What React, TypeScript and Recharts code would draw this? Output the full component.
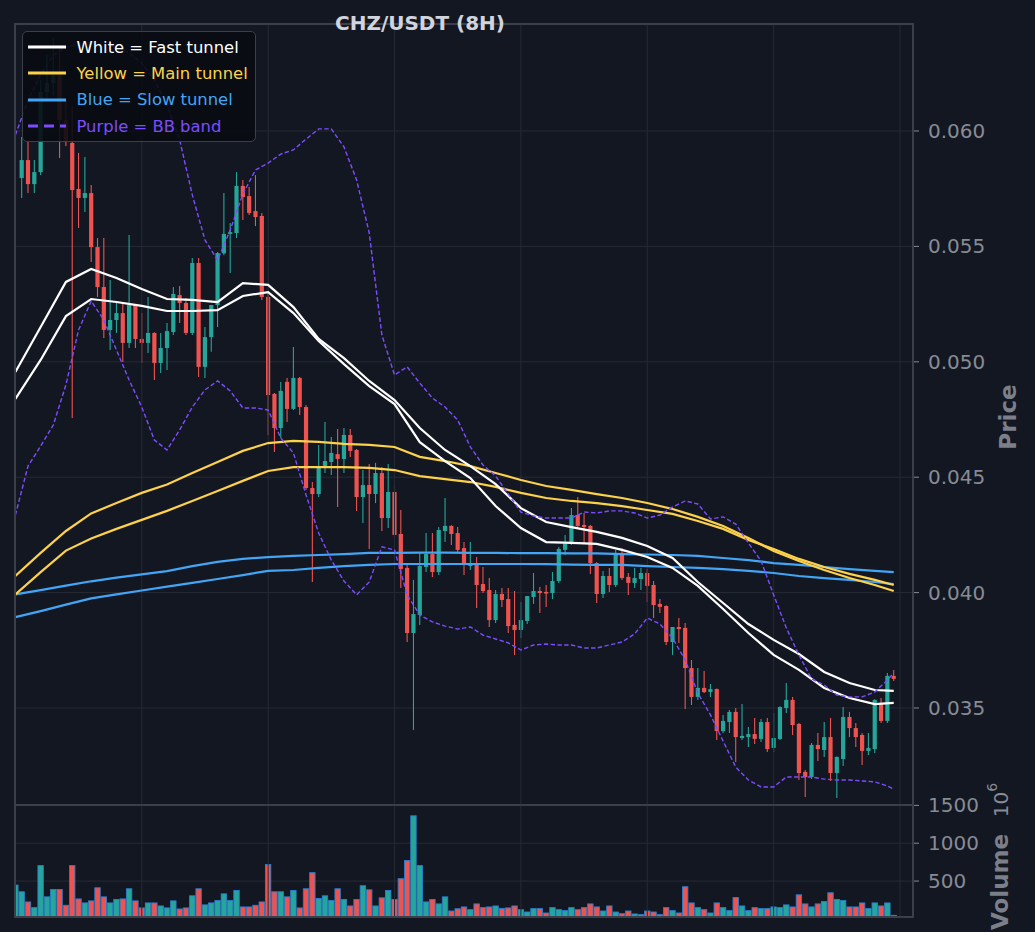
import React from "react";
import {
  ComposedChart,
  Bar,
  Line,
  XAxis,
  YAxis,
  CartesianGrid,
  ReferenceLine,
  Legend,
} from "recharts";

const FONT = "DejaVu Sans";
const BG = "#131722";
const GRID = "#262a35";
const SPINE = "#3b3f4a";
const TICK = "#878b95";
const LABEL = "#7b7f89";
const UP = "#26a69a";
const DOWN = "#ef5350";
const EDGE = "#2a7fd0";
const WHITE = "#ffffff";
const YELLOW = "#fdd14b";
const BLUE = "#42a5f5";
const PURPLE = "#7c4dff";

// candles, one per 8h bar (index 0..138)
const opens = [
  0.05796, 0.05874, 0.0577, 0.05822, 0.06169, 0.06208, 0.06243, 0.06048, 0.05948, 0.05749,
  0.0571, 0.05731, 0.05497, 0.05324, 0.05138, 0.05181, 0.05211, 0.05082, 0.05246, 0.05099,
  0.05082, 0.05125, 0.04995, 0.0506, 0.05129, 0.05289, 0.05255, 0.05125, 0.05428, 0.04978,
  0.05107, 0.05246, 0.0547, 0.05554, 0.05558, 0.05762, 0.05718, 0.05653, 0.05632, 0.05281,
  0.04861, 0.04713, 0.04913, 0.04796, 0.0493, 0.04804, 0.04453, 0.04427, 0.0454, 0.04566,
  0.046, 0.04579, 0.04683, 0.04618, 0.04414, 0.04466, 0.04427, 0.04518, 0.04323, 0.04436,
  0.04254, 0.04107, 0.03825, 0.03903, 0.04111, 0.04167, 0.04089, 0.04267, 0.04289, 0.04258,
  0.04193, 0.04115, 0.04128, 0.04037, 0.04011, 0.03881, 0.03994, 0.03972, 0.0386, 0.03838,
  0.03877, 0.03981, 0.04007, 0.04003, 0.03998, 0.0405, 0.04185, 0.04211, 0.04336, 0.04293,
  0.04289, 0.04128, 0.03994, 0.04072, 0.04033, 0.04172, 0.04068, 0.04042, 0.04059, 0.04085,
  0.04033, 0.03951, 0.03942, 0.03786, 0.03851, 0.03847, 0.03673, 0.03548, 0.03587, 0.03569,
  0.03582, 0.034, 0.03439, 0.03483, 0.0337, 0.03374, 0.03387, 0.03366, 0.03439, 0.03327,
  0.03366, 0.035, 0.03535, 0.03431, 0.03223, 0.03201, 0.0334, 0.03318, 0.03374, 0.03218,
  0.03279, 0.03461, 0.03413, 0.03383, 0.03314, 0.03322, 0.03517, 0.03444, 0.03639,
];
const highs = [
  0.05974, 0.05952, 0.05874, 0.06221, 0.06329, 0.06403, 0.0636, 0.06134, 0.06108, 0.05905,
  0.05887, 0.05766, 0.05536, 0.05536, 0.05354, 0.05255, 0.05255, 0.05549, 0.0525, 0.05211,
  0.05281, 0.05128, 0.05125, 0.05168, 0.05324, 0.05328, 0.05276, 0.0545, 0.0545, 0.05151,
  0.05246, 0.05476, 0.05731, 0.05601, 0.05822, 0.05788, 0.05757, 0.05809, 0.05645, 0.05298,
  0.04865, 0.04913, 0.0493, 0.05064, 0.04934, 0.04813, 0.04479, 0.0464, 0.04739, 0.04674,
  0.04709, 0.04713, 0.04709, 0.04622, 0.04531, 0.04557, 0.04562, 0.04544, 0.04557, 0.04462,
  0.04358, 0.04128, 0.04055, 0.04172, 0.04258, 0.04258, 0.04284, 0.0441, 0.04292, 0.04284,
  0.04219, 0.04219, 0.04154, 0.04111, 0.04063, 0.04011, 0.0402, 0.0402, 0.04007, 0.03959,
  0.03985, 0.04085, 0.04024, 0.04033, 0.04089, 0.04198, 0.0425, 0.04367, 0.04414, 0.04345,
  0.04293, 0.04131, 0.04094, 0.04107, 0.04185, 0.04193, 0.04085, 0.04107, 0.04107, 0.04102,
  0.0405, 0.03972, 0.03945, 0.03851, 0.0389, 0.03868, 0.03708, 0.03673, 0.0366, 0.03604,
  0.03585, 0.0347, 0.03491, 0.035, 0.03517, 0.03418, 0.03457, 0.03452, 0.03457, 0.03478,
  0.03508, 0.03608, 0.03548, 0.03435, 0.03231, 0.03348, 0.03392, 0.03439, 0.03457, 0.0329,
  0.03504, 0.03483, 0.03435, 0.03392, 0.03392, 0.03538, 0.03543, 0.03652, 0.03665,
];
const lows = [
  0.0571, 0.05731, 0.05731, 0.05809, 0.06134, 0.06156, 0.05883, 0.05935, 0.04757, 0.0558,
  0.05649, 0.05432, 0.05281, 0.05103, 0.05051, 0.05125, 0.04999, 0.0506, 0.0506, 0.04995,
  0.05038, 0.04921, 0.04952, 0.04965, 0.05116, 0.05168, 0.05116, 0.05116, 0.04934, 0.0493,
  0.05043, 0.05151, 0.05462, 0.05385, 0.05536, 0.05614, 0.05636, 0.05588, 0.05268, 0.04683,
  0.04609, 0.0467, 0.04739, 0.04791, 0.0477, 0.04445, 0.04046, 0.04414, 0.04518, 0.0451,
  0.04371, 0.04518, 0.04588, 0.04354, 0.04302, 0.04189, 0.04388, 0.04267, 0.0428, 0.04241,
  0.0402, 0.03786, 0.03405, 0.0386, 0.04089, 0.04068, 0.04076, 0.04219, 0.04206, 0.04172,
  0.04076, 0.04098, 0.03933, 0.03998, 0.03851, 0.03868, 0.03938, 0.03825, 0.0373, 0.03803,
  0.03864, 0.03951, 0.03912, 0.03938, 0.03972, 0.04042, 0.04163, 0.04206, 0.04284, 0.04215,
  0.04081, 0.03955, 0.03977, 0.04003, 0.04024, 0.04055, 0.0399, 0.0402, 0.04011, 0.03959,
  0.0389, 0.03912, 0.03773, 0.0373, 0.03782, 0.03496, 0.03513, 0.03535, 0.03565, 0.03548,
  0.03361, 0.03392, 0.03392, 0.03266, 0.03361, 0.03331, 0.03344, 0.03353, 0.03309, 0.03309,
  0.03361, 0.03478, 0.03383, 0.03188, 0.03114, 0.03192, 0.0327, 0.03288, 0.03184, 0.0311,
  0.03249, 0.03374, 0.03331, 0.03253, 0.03296, 0.03305, 0.03435, 0.03435, 0.03617,
];
const closes = [
  0.05874, 0.0577, 0.05822, 0.06169, 0.06208, 0.06243, 0.06048, 0.05952, 0.05744, 0.0571,
  0.05731, 0.05497, 0.05324, 0.05138, 0.05181, 0.05211, 0.05082, 0.05246, 0.05099, 0.05082,
  0.05125, 0.04995, 0.0506, 0.05133, 0.05294, 0.05255, 0.05125, 0.05428, 0.04978, 0.05107,
  0.05246, 0.05471, 0.05554, 0.05562, 0.05762, 0.05714, 0.05645, 0.05627, 0.05281, 0.04856,
  0.04713, 0.04874, 0.04796, 0.0493, 0.04804, 0.04453, 0.04427, 0.0454, 0.0457, 0.04605,
  0.04579, 0.04683, 0.04614, 0.04414, 0.04466, 0.04427, 0.04518, 0.04323, 0.04436, 0.0425,
  0.04102, 0.03825, 0.03907, 0.04115, 0.04167, 0.04089, 0.04271, 0.04289, 0.04254, 0.04185,
  0.04128, 0.04128, 0.04033, 0.04007, 0.03881, 0.03994, 0.03968, 0.03855, 0.03838, 0.03881,
  0.03985, 0.04007, 0.03998, 0.03996, 0.0405, 0.04189, 0.04211, 0.04336, 0.04289, 0.04284,
  0.04128, 0.03994, 0.04072, 0.04033, 0.04172, 0.04063, 0.04042, 0.04063, 0.04085, 0.04029,
  0.03946, 0.03938, 0.03786, 0.03851, 0.03842, 0.03673, 0.03548, 0.03587, 0.03569, 0.03582,
  0.034, 0.03444, 0.03483, 0.03374, 0.03379, 0.03387, 0.03366, 0.03439, 0.03322, 0.0337,
  0.03504, 0.03535, 0.03426, 0.03218, 0.03201, 0.0334, 0.03322, 0.03374, 0.03218, 0.03288,
  0.03461, 0.03413, 0.03374, 0.03314, 0.03327, 0.03535, 0.03444, 0.03639, 0.03626,
];
// volume in 10^6, index -1..138 (first bar sits at the left edge)
const volumes = [
  447,
  358, 224, 149, 704, 291, 389, 389, 180, 704, 264,
  211, 238, 411, 291, 211, 256, 264, 398, 238, 145,
  211, 211, 171, 145, 238, 131, 145, 305, 398, 185,
  211, 242, 331, 242, 376, 158, 158, 180, 224, 718,
  358, 358, 291, 376, 145, 398, 611, 269, 305, 242,
  398, 256, 171, 256, 438, 384, 171, 278, 376, 256,
  531, 771, 1362, 704, 224, 256, 198, 291, 104, 134,
  158, 122, 198, 149, 158, 171, 136, 145, 171, 122,
  91, 136, 136, 78, 149, 122, 109, 149, 122, 149,
  198, 158, 104, 171, 91, 69, 104, 65, 56, 104,
  91, 56, 149, 109, 78, 425, 211, 149, 122, 78,
  211, 149, 109, 282, 171, 109, 149, 136, 136, 158,
  149, 185, 158, 318, 198, 158, 198, 229, 345, 256,
  242, 158, 158, 211, 136, 211, 171, 211, 47,
];

// tunnel lines, read at these bar indexes
const tunnelIdx = [
  -1, 3, 7, 11, 15, 19, 23, 27, 31, 35, 39, 43, 47, 51, 55, 59, 63, 67,
  71, 75, 79, 83, 87, 91, 95, 99, 103, 107, 111, 115, 119, 123, 127, 131, 135, 138,
];
const fastUpper = [
  0.04956, 0.05151, 0.05346, 0.05402, 0.05363, 0.05315, 0.05272, 0.05268, 0.05259, 0.05341,
  0.05333, 0.05237, 0.05099, 0.05016, 0.04917, 0.04834, 0.04713, 0.04618, 0.04548, 0.0447,
  0.04366, 0.04306, 0.04284, 0.04263, 0.04237, 0.04202, 0.0415, 0.04046, 0.03955, 0.03864,
  0.03795, 0.03734, 0.03656, 0.03608, 0.03578, 0.03574,
];
const fastLower = [
  0.04839, 0.05008, 0.05198, 0.05272, 0.05259, 0.05242, 0.0522, 0.0522, 0.05224, 0.05285,
  0.05302, 0.05211, 0.0509, 0.0499, 0.04895, 0.04817, 0.04652, 0.0457, 0.04496, 0.04375,
  0.0428, 0.04219, 0.04215, 0.04211, 0.04185, 0.04154, 0.04107, 0.04029, 0.03929, 0.03825,
  0.0373, 0.03665, 0.03587, 0.03543, 0.03517, 0.03522,
];
const mainUpper = [
  0.04072, 0.04172, 0.04267, 0.04343, 0.04388, 0.04432, 0.04468, 0.04518, 0.04566, 0.04614,
  0.04648, 0.04657, 0.04653, 0.04644, 0.0464, 0.04631, 0.04588, 0.0457, 0.04548, 0.04518,
  0.04488, 0.04462, 0.04445, 0.04427, 0.0441, 0.04388, 0.04362, 0.04328, 0.04289, 0.04237,
  0.0418, 0.04137, 0.04098, 0.04063, 0.04033, 0.04007,
];
const mainLower = [
  0.03992, 0.04089, 0.04182, 0.04234, 0.04276, 0.04315, 0.04354, 0.04397, 0.0444, 0.04484,
  0.04527, 0.04544, 0.04544, 0.04544, 0.0454, 0.04531, 0.04505, 0.04492, 0.04479, 0.04458,
  0.04432, 0.0441, 0.04397, 0.04388, 0.04375, 0.04358, 0.04341, 0.0431, 0.04276, 0.04228,
  0.04189, 0.04146, 0.04111, 0.04081, 0.04055, 0.04033,
];
const slowUpper = [
  0.03992, 0.04011, 0.0403, 0.04049, 0.04065, 0.04079, 0.04093, 0.04115, 0.04133, 0.04146,
  0.04154, 0.04159, 0.04163, 0.04167, 0.04172, 0.04172, 0.04173, 0.04173, 0.04172, 0.04172,
  0.04171, 0.04171, 0.0417, 0.0417, 0.04167, 0.04165, 0.04163, 0.04159, 0.0415, 0.04141,
  0.04128, 0.0412, 0.04111, 0.04102, 0.04094, 0.04089,
];
const slowLower = [
  0.03894, 0.0392, 0.03948, 0.03975, 0.03992, 0.04009, 0.04026, 0.04042, 0.04059, 0.04076,
  0.04094, 0.04098, 0.04107, 0.04115, 0.0412, 0.04124, 0.04124, 0.04124, 0.04124, 0.04124,
  0.04124, 0.04123, 0.04121, 0.0412, 0.0412, 0.04115, 0.04111, 0.04107, 0.04102, 0.04094,
  0.04085, 0.04072, 0.04063, 0.04055, 0.04046, 0.04037,
];

// bollinger band, read every second bar
const bbIdx = [
  -1, 1, 3, 5, 7, 9, 11, 13, 15, 17, 19, 21, 23, 25, 27, 29, 31, 33, 35, 37, 39,
  41, 43, 45, 47, 49, 51, 53, 55, 57, 59, 61, 63, 65, 67, 69, 71, 73, 75, 77, 79,
  81, 83, 85, 87, 89, 91, 93, 95, 97, 99, 101, 103, 105, 107, 109, 111, 113, 115,
  117, 119, 121, 123, 125, 127, 129, 131, 133, 135, 137, 138,
];
const bbUpper = [
  0.05983, 0.06134, 0.06243, 0.06329, 0.06364, 0.06377, 0.06381, 0.06377, 0.06364, 0.06338,
  0.06295, 0.06221, 0.06113, 0.05961, 0.05723, 0.05528, 0.05441, 0.05571, 0.05727, 0.05831,
  0.05861, 0.059, 0.05918, 0.05965, 0.06009, 0.06009, 0.05931, 0.05788, 0.05558, 0.05116,
  0.04943, 0.04978, 0.04908, 0.04843, 0.04804, 0.04748, 0.04631, 0.04553, 0.04505, 0.04427,
  0.04349, 0.04332, 0.04323, 0.04323, 0.04323, 0.04349, 0.04345, 0.04354, 0.04354, 0.04345,
  0.04323, 0.04336, 0.04371, 0.04397, 0.04384, 0.04319, 0.04328, 0.04297, 0.04215, 0.04137,
  0.0399, 0.03847, 0.0373, 0.03626, 0.036, 0.03556, 0.03548, 0.03548, 0.03569, 0.03621, 0.03652,
];
const bbLower = [
  0.04336, 0.04548, 0.04635, 0.04726, 0.049, 0.05138, 0.05263, 0.05181, 0.05051, 0.04921,
  0.04804, 0.04661, 0.04618, 0.04705, 0.04804, 0.04878, 0.04917, 0.04874, 0.048, 0.048,
  0.04791, 0.0467, 0.04605, 0.04423, 0.04258, 0.04141, 0.0405, 0.0399, 0.04046, 0.04198,
  0.04185, 0.0399, 0.03903, 0.03873, 0.03855, 0.03842, 0.03851, 0.03816, 0.03799, 0.03782,
  0.03751, 0.03773, 0.03777, 0.03773, 0.03773, 0.0376, 0.0376, 0.03773, 0.03786, 0.03821,
  0.0389, 0.03864, 0.03803, 0.03708, 0.03565, 0.0347, 0.03357, 0.03244, 0.03188, 0.03158,
  0.03158, 0.03201, 0.03201, 0.03201, 0.03192, 0.03188, 0.03188, 0.03184, 0.0318, 0.03162, 0.03149,
];

const priceTicks = [0.035, 0.04, 0.045, 0.05, 0.055, 0.06];
const volumeTicks = [500, 1000, 1500];
const gridIdx = [19, 39, 59, 79, 99, 119, 139];
const xDomain = [-1.06, 141.05];

const legendItems = [
  { label: "White = Fast tunnel", color: WHITE, dashed: false },
  { label: "Yellow = Main tunnel", color: YELLOW, dashed: false },
  { label: "Blue = Slow tunnel", color: BLUE, dashed: false },
  { label: "Purple = BB band", color: PURPLE, dashed: true },
];

const rows: any[] = [];
for (let k = -1; k <= 138; k++) {
  const row: any = { x: k, vol: volumes[k + 1], up: true };
  if (k >= 0) {
    row.o = opens[k];
    row.h = highs[k];
    row.l = lows[k];
    row.c = closes[k];
    row.up = closes[k] >= opens[k];
  }
  const t = tunnelIdx.indexOf(k);
  if (t >= 0) {
    row.fastUpper = fastUpper[t];
    row.fastLower = fastLower[t];
    row.mainUpper = mainUpper[t];
    row.mainLower = mainLower[t];
    row.slowUpper = slowUpper[t];
    row.slowLower = slowLower[t];
  }
  const b = bbIdx.indexOf(k);
  if (b >= 0) {
    row.bbUpper = bbUpper[b];
    row.bbLower = bbLower[b];
  }
  rows.push(row);
}

function Candle(props: any) {
  const { x, y, width, height, payload } = props;
  if (!payload || payload.o == null || !isFinite(y) || !isFinite(height)) return <g />;
  const { o, h, l, c } = payload;
  const color = c >= o ? UP : DOWN;
  const cx = x + width / 2;
  const top = Math.min(y, y + height);
  const bottom = Math.max(y, y + height);
  const span = h - l;
  const toY = (v: number) => (span === 0 ? top : top + ((h - v) / span) * (bottom - top));
  const bodyTop = toY(Math.max(o, c));
  const bodyBottom = toY(Math.min(o, c));
  return (
    <g>
      <line x1={cx} x2={cx} y1={top} y2={bottom} stroke={color} strokeWidth={1.1} />
      <rect
        x={cx - 2.1}
        y={bodyTop}
        width={4.2}
        height={Math.max(bodyBottom - bodyTop, 1)}
        fill={color}
      />
    </g>
  );
}

function VolumeBar(props: any) {
  const { x, y, width, height, payload } = props;
  if (!payload || !isFinite(y) || !isFinite(height)) return <g />;
  const cx = x + width / 2;
  const top = Math.min(y, y + height);
  return (
    <rect
      x={cx - 2.7}
      y={top}
      width={5.4}
      height={Math.abs(height)}
      fill={payload.up ? UP : DOWN}
      stroke={EDGE}
      strokeWidth={0.9}
    />
  );
}

function AxisTitle(props: any) {
  const { viewBox, text, dx, cy, exponent, ey } = props;
  if (!viewBox) return null;
  const x = viewBox.x + dx;
  const y = cy;
  return (
    <g>
      <text
        x={x}
        y={y}
        transform={`rotate(-90 ${x} ${y})`}
        textAnchor="middle"
        dominantBaseline="central"
        fill={LABEL}
        fontSize={23}
        fontWeight="bold"
        fontFamily={FONT}
      >
        {text}
      </text>
      {exponent ? (
        <text
          x={x + 1}
          y={ey}
          transform={`rotate(-90 ${x + 1} ${ey})`}
          textAnchor="middle"
          dominantBaseline="central"
          fill={TICK}
          fontSize={20}
          fontFamily={FONT}
        >
          10
          <tspan dy={-9} fontSize={14}>
            {exponent}
          </tspan>
        </text>
      ) : null}
    </g>
  );
}

function LegendBox() {
  return (
    <div
      style={{
        background: "rgba(9, 12, 18, 0.9)",
        border: `1.5px solid ${SPINE}`,
        borderRadius: 5,
        padding: "2px 6px 2px 4.5px",
        width: 234,
        boxSizing: "border-box",
      }}
    >
      {legendItems.map((item) => (
        <div
          key={item.label}
          style={{ display: "flex", alignItems: "center", height: 26.3 }}
        >
          <svg width={38} height={6} style={{ marginRight: 11, flex: "none" }}>
            <line
              x1={0}
              x2={38}
              y1={3}
              y2={3}
              stroke={item.color}
              strokeWidth={3}
              strokeDasharray={item.dashed ? "10 6" : undefined}
            />
          </svg>
          <span
            style={{
              color: item.color,
              fontSize: 16.4,
              fontFamily: FONT,
              whiteSpace: "nowrap",
            }}
          >
            {item.label}
          </span>
        </div>
      ))}
    </div>
  );
}

const tickStyle = { fill: TICK, fontSize: 20, fontFamily: FONT };

export default function App() {
  return (
    <div
      style={{
        position: "fixed",
        left: 0,
        top: 0,
        width: 1035,
        height: 932,
        background: BG,
        overflow: "hidden",
      }}
    >
      <div style={{ position: "absolute", left: 0, top: 0 }}>
        <ComposedChart
          width={1035}
          height={805}
          data={rows}
          margin={{ top: 24, right: 0, bottom: 0, left: 15 }}
        >
          <CartesianGrid vertical={false} stroke={GRID} strokeWidth={1} />
          {gridIdx.map((g) => (
            <ReferenceLine key={g} x={g} stroke={GRID} strokeWidth={1} />
          ))}
          <XAxis
            type="number"
            dataKey="x"
            domain={xDomain}
            allowDataOverflow
            hide
            height={0}
          />
          <YAxis
            orientation="right"
            type="number"
            domain={[0.030797, 0.064636]}
            allowDataOverflow
            ticks={priceTicks}
            interval={0}
            width={122}
            tickFormatter={(v: number) => v.toFixed(3)}
            tick={tickStyle}
            tickLine={{ stroke: TICK }}
            tickSize={6}
            tickMargin={9}
            axisLine={false}
            label={<AxisTitle text="Price" dx={95} cy={417} />}
          />
          <Bar
            dataKey={(d: any) => (d.o == null ? null : [d.l, d.h])}
            shape={(p: any) => <Candle {...p} />}
            isAnimationActive={false}
          />
          <Line dataKey="slowUpper" stroke={BLUE} strokeWidth={2.2} dot={false} activeDot={false} connectNulls isAnimationActive={false} />
          <Line dataKey="slowLower" stroke={BLUE} strokeWidth={2.2} dot={false} activeDot={false} connectNulls isAnimationActive={false} />
          <Line dataKey="mainUpper" stroke={YELLOW} strokeWidth={2.2} dot={false} activeDot={false} connectNulls isAnimationActive={false} />
          <Line dataKey="mainLower" stroke={YELLOW} strokeWidth={2.2} dot={false} activeDot={false} connectNulls isAnimationActive={false} />
          <Line dataKey="fastUpper" stroke={WHITE} strokeWidth={2.2} dot={false} activeDot={false} connectNulls isAnimationActive={false} />
          <Line dataKey="fastLower" stroke={WHITE} strokeWidth={2.2} dot={false} activeDot={false} connectNulls isAnimationActive={false} />
          <Line dataKey="bbUpper" stroke={PURPLE} strokeWidth={1.4} strokeDasharray="4.4 2.4" dot={false} activeDot={false} connectNulls isAnimationActive={false} />
          <Line dataKey="bbLower" stroke={PURPLE} strokeWidth={1.4} strokeDasharray="4.4 2.4" dot={false} activeDot={false} connectNulls isAnimationActive={false} />
          <Legend
            layout="vertical"
            align="center"
            verticalAlign="middle"
            content={() => <LegendBox />}
            wrapperStyle={{ left: 22, top: 31, width: 234 }}
          />
        </ComposedChart>
      </div>

      <div style={{ position: "absolute", left: 0, top: 765 }}>
        <ComposedChart
          width={1035}
          height={167}
          data={rows}
          margin={{ top: 40, right: 0, bottom: 15, left: 15 }}
        >
          <CartesianGrid vertical={false} stroke={GRID} strokeWidth={1} />
          {gridIdx.map((g) => (
            <ReferenceLine key={g} x={g} stroke={GRID} strokeWidth={1} />
          ))}
          <XAxis
            type="number"
            dataKey="x"
            domain={xDomain}
            allowDataOverflow
            hide
            height={0}
          />
          <YAxis
            orientation="right"
            type="number"
            domain={[25, 1505]}
            allowDataOverflow
            ticks={volumeTicks}
            interval={0}
            width={122}
            tick={tickStyle}
            tickLine={{ stroke: TICK }}
            tickSize={6}
            tickMargin={9}
            axisLine={false}
            label={<AxisTitle text="Volume" dx={87} cy={117} exponent="6" ey={35} />}
          />
          <Bar
            dataKey="vol"
            shape={(p: any) => <VolumeBar {...p} />}
            isAnimationActive={false}
          />
        </ComposedChart>
      </div>

      <div
        style={{
          position: "absolute",
          left: 14,
          top: 23,
          width: 900,
          height: 783,
          border: `2px solid ${SPINE}`,
          boxSizing: "border-box",
          pointerEvents: "none",
        }}
      />
      <div
        style={{
          position: "absolute",
          left: 14,
          top: 804,
          width: 900,
          height: 114,
          border: `2px solid ${SPINE}`,
          boxSizing: "border-box",
          pointerEvents: "none",
        }}
      />
      <div
        style={{
          position: "absolute",
          left: 220,
          top: 13,
          width: 400,
          textAlign: "center",
          color: "#d1d4dc",
          fontFamily: FONT,
          fontWeight: "bold",
          fontSize: 20,
          lineHeight: "20px",
        }}
      >
        CHZ/USDT (8H)
      </div>
    </div>
  );
}
